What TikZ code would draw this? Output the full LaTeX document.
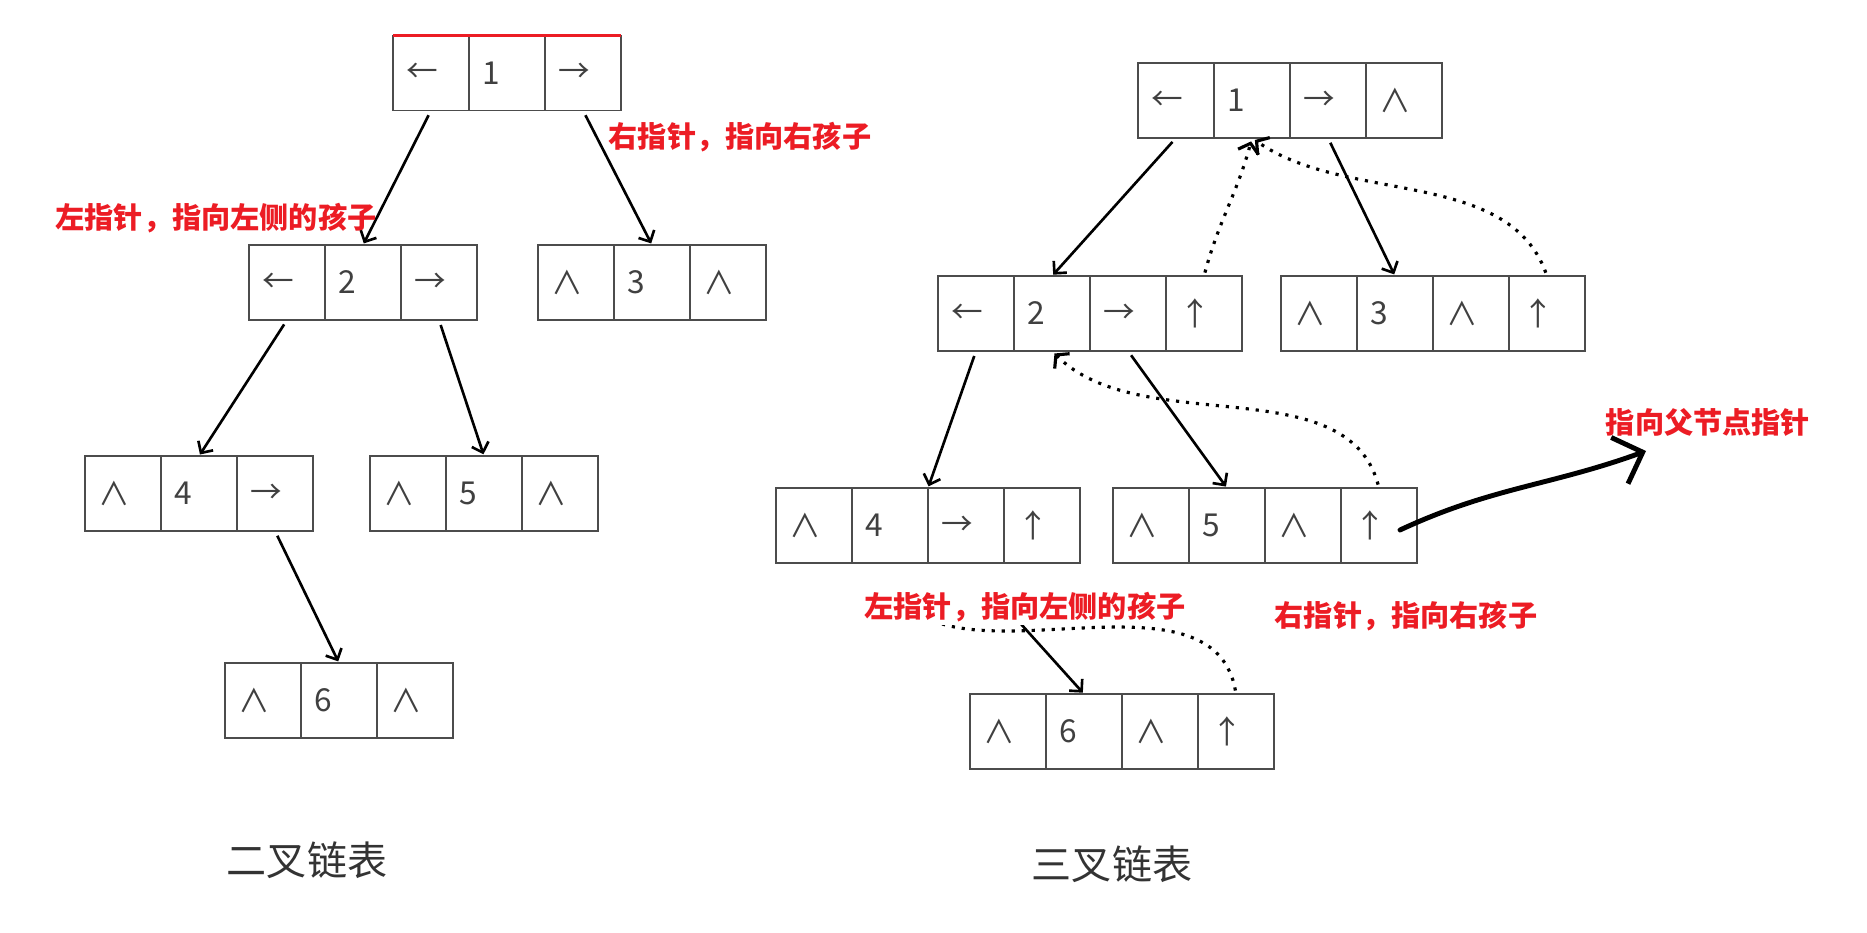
\documentclass[tikz,border=0pt]{standalone}
\usepackage{fontspec}
\setmainfont{DejaVu Sans}
\newfontfamily\cjk{Noto Sans CJK SC}
\usetikzlibrary{shapes,arrows,arrows.meta,positioning,calc}
\usepackage{xcolor}
\definecolor{notered}{RGB}{236,28,36}

\begin{document}
\begin{tikzpicture}[thick]
  \tikzstyle{cell} = [rectangle, draw=black!70, line width=1pt, outer sep=0pt, minimum height=1.5cm, inner xsep=0.27cm, inner ysep=0pt, text width=0.98cm, align=left, text=black!75, font=\cjk\fontsize{18}{20}\selectfont]
  \tikzstyle{arrow} = [draw, line width=1.5pt, shorten <=3pt, shorten >=1pt, -{Straight Barb[length=5pt,width=10pt]}]
  \tikzstyle{parent} = [draw, line width=1.8pt, dash pattern=on 1.8pt off 3.9pt, shorten <=2pt, shorten >=2pt, -{Straight Barb[length=5pt,width=12pt]}]
  \tikzstyle{note} = [inner sep=0pt, text=notered, font=\cjk\bfseries\fontsize{16.6}{20}\selectfont]
  \tikzstyle{title} = [inner sep=0pt, text=black!80, font=\cjk\fontsize{22.8}{26}\selectfont]
  \tikzstyle{hand} = [draw, line width=2.8pt, line cap=round, -{Straight Barb[length=14pt,width=28pt]}]

  \useasboundingbox (0,0) rectangle (37.34,18.64);

  % binary linked list
  \foreach \t [count=\i] in {←,1,→} \node[cell] (l1-\i) at ({8.62+1.52*(\i-1)},17.18) {\t};
  \foreach \t [count=\i] in {←,2,→} \node[cell] (l2-\i) at ({5.74+1.52*(\i-1)},12.99) {\t};
  \foreach \t [count=\i] in {∧,3,∧} \node[cell] (l3-\i) at ({11.52+1.52*(\i-1)},12.99) {\t};
  \foreach \t [count=\i] in {∧,4,→} \node[cell] (l4-\i) at ({2.46+1.52*(\i-1)},8.77) {\t};
  \foreach \t [count=\i] in {∧,5,∧} \node[cell] (l5-\i) at ({8.16+1.52*(\i-1)},8.77) {\t};
  \foreach \t [count=\i] in {∧,6,∧} \node[cell] (l6-\i) at ({5.26+1.52*(\i-1)},4.63) {\t};

  \draw[notered, line width=2.2pt] (l1-1.north west) -- (l1-3.north east);

  \path[arrow] (l1-1.south) -- (l2-2.north);
  \path[arrow] (l1-3.south) -- (l3-2.north);
  \path[arrow] (l2-1.south) -- (l4-2.north);
  \path[arrow] (l2-3.south) -- (l5-2.north);
  \path[arrow] (l4-3.south) -- (l6-2.north);

  \node[note] (lright) at (14.80,15.90) {右指针，指向右孩子};
  \node[note] (lleft) at (4.32,14.28) {左指针，指向左侧的孩子};
  \node[title] (bititle) at (6.14,1.44) {二叉链表};

  % trident linked list
  \foreach \t [count=\i] in {←,1,→,∧} \node[cell] (r1-\i) at ({23.52+1.52*(\i-1)},16.63) {\t};
  \foreach \t [count=\i] in {←,2,→,↑} \node[cell] (r2-\i) at ({19.52+1.52*(\i-1)},12.37) {\t};
  \foreach \t [count=\i] in {∧,3,∧,↑} \node[cell] (r3-\i) at ({26.38+1.52*(\i-1)},12.37) {\t};
  \foreach \t [count=\i] in {∧,4,→,↑} \node[cell] (r4-\i) at ({16.28+1.52*(\i-1)},8.13) {\t};
  \foreach \t [count=\i] in {∧,5,∧,↑} \node[cell] (r5-\i) at ({23.02+1.52*(\i-1)},8.13) {\t};
  \foreach \t [count=\i] in {∧,6,∧,↑} \node[cell] (r6-\i) at ({20.16+1.52*(\i-1)},4.01) {\t};

  \path[arrow] (r1-1.south) -- (r2-2.north);
  \path[arrow] (r1-3.south) -- (r3-2.north);
  \path[arrow] (r2-1.south) -- (r4-2.north east);
  \path[arrow] (r2-3.south) -- (r5-2.north);
  \path[arrow] (r4-3.south) -- (r6-2.north);

  \path[parent] (r2-4.north) to[out=75,in=-105] (r1-2.south);
  \path[parent] (r3-4.north) to[out=110,in=-35,looseness=0.9] (r1-2.south);
  \path[parent] (r5-4.north) to[out=105,in=-45,looseness=0.9] (r2-2.south);
  \path[parent] (r6-4.north) to[out=100,in=-80] (r4-2.south);

  \node[note, fill=white, anchor=base, text height=1.07cm, text depth=0.14cm] (rleft) at (20.50,6.28) {左指针，指向左侧的孩子};
  \node[note] (rright) at (28.12,6.32) {右指针，指向右孩子};
  \node[note] (pnote) at (34.16,10.20) {指向父节点指针};

  \coordinate (pstart) at ($(r5-4.center)+(0.42,-0.09)$);
  \coordinate (ptip) at (32.92,9.62);
  \path[hand] (pstart) to[out=25,in=200] (ptip);

  \node[title] (trititle) at (22.24,1.36) {三叉链表};
\end{tikzpicture}
\end{document}
